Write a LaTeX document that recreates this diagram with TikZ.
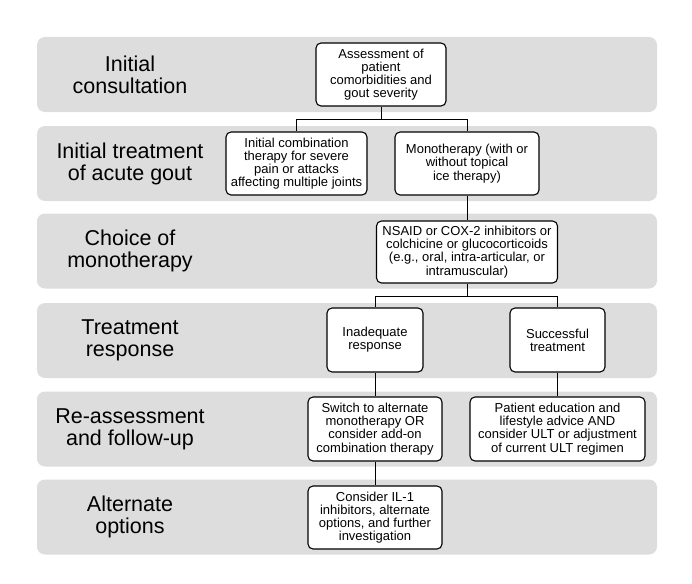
\documentclass[tikz,border=0pt]{standalone}
\usepackage{fontspec}
\setmainfont{Liberation Sans}
\usetikzlibrary{positioning}
\definecolor{bandgray}{RGB}{221,221,221}

\begin{document}
\begin{tikzpicture}[
  x=1pt, y=-1pt,
  band/.style={fill=bandgray,rounded corners=8pt,minimum width=620pt,minimum height=75pt,inner sep=0pt},
  stage/.style={align=center,font=\fontsize{21.5}{22}\selectfont},
  box/.style={draw,line width=1.1pt,fill=white,rounded corners=5pt,align=center,inner sep=2pt,font=\fontsize{13}{13.2}\selectfont},
  link/.style={line width=0.9pt}
]
\useasboundingbox (0,0) rectangle (692,583);
% grey bands, one per stage
\node[band] (band1) at (347,74.5) {};
\node[band] (band2) at (347,163.5) {};
\node[band] (band3) at (347,251) {};
\node[band] (band4) at (347,340.5) {};
\node[band] (band5) at (347,429) {};
\node[band] (band6) at (347,517) {};
\node[stage] (st1) at (130,74.5) {Initial\\consultation};
\node[stage] (st2) at (130,163.5) {Initial treatment\\of acute gout};
\node[stage] (st3) at (130,251) {Choice of\\monotherapy};
\node[stage] (st4) at (130,340.5) {Treatment\\response};
\node[stage] (st5) at (130,429) {Re-assessment\\and follow-up};
\node[stage] (st6) at (130,517) {Alternate\\options};
% decision boxes
\node[box,minimum width=130pt,minimum height=63pt] (assess) at (381,74.5) {Assessment of\\patient\\comorbidities and\\gout severity};
\node[box,minimum width=141pt,minimum height=63pt] (combo) at (296.5,163.5) {Initial combination\\therapy for severe\\pain or attacks\\affecting multiple joints};
\node[box,minimum width=144pt,minimum height=63pt] (mono) at (467,163.5) {Monotherapy (with or\\without topical\\ice therapy)};
\node[box,minimum width=181pt,minimum height=62pt] (choice) at (467,252) {NSAID or COX-2 inhibitors or\\colchicine or glucocorticoids\\(e.g., oral, intra-articular, or\\intramuscular)};
\node[box,minimum width=96pt,minimum height=64pt] (inadeq) at (375,340) {Inadequate\\response};
\node[box,minimum width=95pt,minimum height=64pt] (success) at (557.5,340) {Successful\\treatment};
\node[box,minimum width=134pt,minimum height=64pt] (switch) at (375,429) {Switch to alternate\\monotherapy OR\\consider add-on\\combination therapy};
\node[box,minimum width=175pt,minimum height=64pt] (educ) at (557.5,429) {Patient education and\\lifestyle advice AND\\consider ULT or adjustment\\of current ULT regimen};
\node[box,minimum width=134pt,minimum height=63pt] (il1) at (375,517.5) {Consider IL-1\\inhibitors, alternate\\options, and further\\investigation};
% connectors
\coordinate (split1) at (381,119);
\coordinate (split2) at (467,296);
\draw[link] (assess) -- (split1) -| (combo);
\draw[link] (split1) -| (mono);
\draw[link] (mono) -- (choice);
\draw[link] (choice) -- (split2) -| (inadeq);
\draw[link] (split2) -| (success);
\draw[link] (inadeq) -- (switch);
\draw[link] (success) -- (educ);
\draw[link] (switch) -- (il1);
\end{tikzpicture}
\end{document}
